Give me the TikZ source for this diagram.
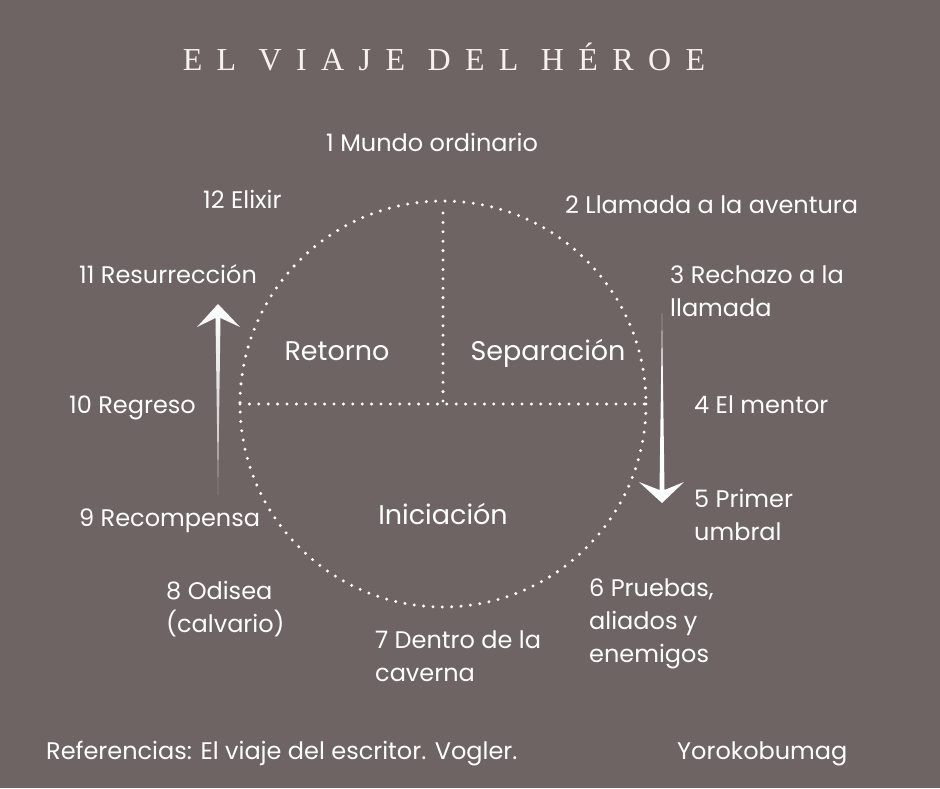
\documentclass[tikz,border=0pt]{standalone}
\usepackage{fontspec}
\setmainfont{Poppins}
\newfontfamily\titlefont[LetterSpace=45]{Liberation Serif}
\usepackage{tikz}
\usetikzlibrary{positioning}
\definecolor{CardBack}{HTML}{6E6463}
\definecolor{CardInk}{HTML}{FFFFFF}
\definecolor{CardTitle}{HTML}{F6F1EE}

\begin{document}
\begin{tikzpicture}[x=1pt,y=-1pt]
  \tikzset{
    stage/.style={anchor=base west,inner sep=0pt,text=CardInk,
                  font=\fontsize{24}{33}\selectfont,align=left},
    part/.style={anchor=base,inner sep=0pt,text=CardInk,
                 font=\fontsize{27}{30}\selectfont},
    dots/.style={CardInk,line width=3.3pt,line cap=round,
                 dash pattern=on 0pt off 9.4pt},
    sweep/.style={fill=CardInk,draw=none}
  }
  \fill[CardBack] (0,0) rectangle (940,788);
  \useasboundingbox (0,0) rectangle (940,788);
  % title
  \node[anchor=base,inner sep=0pt,text=CardTitle,
        font=\titlefont\fontsize{32}{36}\selectfont] (title) at (444,70)
    {EL VIAJE DEL HÉROE};
  % circle and its quarters
  \coordinate (hub) at (443,404);
  \draw[dots] (hub) circle[radius=203];
  \draw[dots] (443,213) -- (hub);
  \draw[dots] (240,404) -- (645,404);
  % the three parts
  \node[part] (retorno) at (337,360) {Retorno};
  \node[part] (separacion) at (548,360) {Separación};
  \node[part] (iniciacion) at (443,524) {Iniciación};
  % the twelve stages
  \node[stage] (s1) at (326,151) {1 Mundo ordinario};
  \node[stage] (s2) at (565,213) {2 Llamada a la aventura};
  \node[stage] (s3) at (670,316) {3 Rechazo a la\\llamada};
  \node[stage] (s4) at (694,413) {4 El mentor};
  \node[stage] (s5) at (694,540) {5 Primer\\umbral};
  \node[stage] (s6) at (589,662) {6 Pruebas,\\aliados y\\enemigos};
  \node[stage] (s7) at (375,681) {7 Dentro de la\\caverna};
  \node[stage] (s8) at (166,632) {8 Odisea\\(calvario)};
  \node[stage] (s9) at (79,526) {9 Recompensa};
  \node[stage] (s10) at (69,413) {10 Regreso};
  \node[stage] (s11) at (79,283) {11 Resurrección};
  \node[stage] (s12) at (203,208) {12 Elixir};
  % direction arrows
  \shade[top color=CardInk,bottom color=CardInk!55!CardBack]
    (218,495) -- (215.5,318) -- (197,327) -- (218,304)
    -- (240,327) -- (220.5,318) -- cycle;
  \fill[sweep] (662,313) -- (664.5,490) -- (684,482) -- (662,503)
    -- (639,482) -- (659.5,490) -- cycle;
  % footer
  \node[stage] (refs) at (46,759)
    {Referencias: El viaje del escritor. Vogler.};
  \node[stage] (brand) at (677,759) {Yorokobumag};
\end{tikzpicture}
\end{document}
